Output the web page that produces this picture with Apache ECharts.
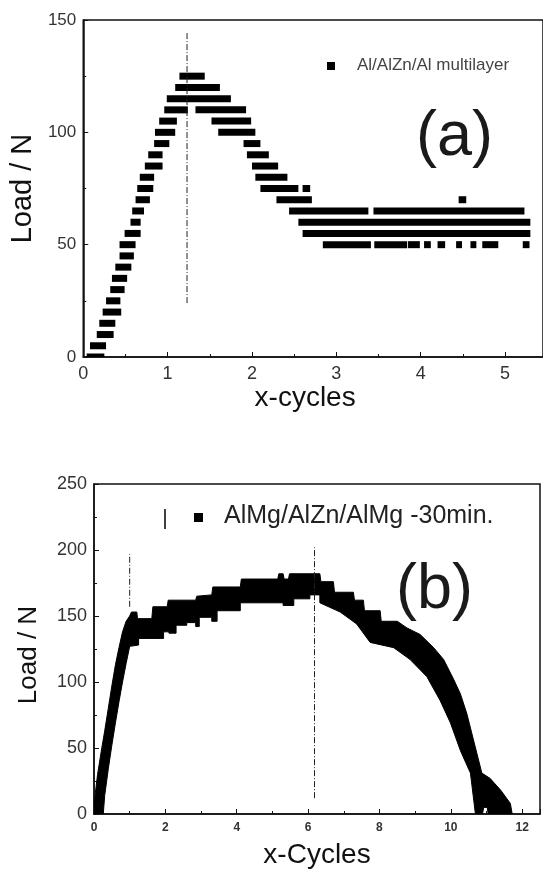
<!DOCTYPE html>
<html>
<head>
<meta charset="utf-8">
<script src="https://cdn.jsdelivr.net/npm/echarts@6/dist/echarts.min.js"></script>
<style>
  html, body { margin: 0; padding: 0; background: #fff; }
  #chart { width: 543px; height: 870px; }
</style>
</head>
<body>
<div id="chart"></div>
<script>
// (a) Al/AlZn/Al multilayer - runs of overlapping square points, one per load level
const aLoad = [0, 5, 10, 15, 20, 25, 30, 35, 40, 45, 50, 55, 60, 65, 70, 75, 80, 85, 90, 95,
  100, 100, 105, 105, 110, 110, 115, 120, 125,
  95, 90, 85, 80, 75, 75, 70, 70, 65, 65, 60, 55,
  50, 50, 50, 50, 50, 50, 50, 50, 50];
const aFrom = [0.04, 0.08, 0.16, 0.19, 0.23, 0.27, 0.32, 0.34, 0.38, 0.43, 0.43, 0.49, 0.56, 0.58, 0.62, 0.64, 0.67, 0.73, 0.77, 0.84,
  0.85, 1.60, 0.90, 1.52, 0.96, 1.33, 0.99, 1.09, 1.14,
  1.90, 1.94, 2.00, 2.04, 2.10, 2.60, 2.29, 4.45, 2.44, 3.44, 2.55, 2.60,
  2.84, 3.45, 3.85, 4.04, 4.20, 4.42, 4.59, 4.73, 5.21];
const aTo = [0.25, 0.27, 0.36, 0.38, 0.45, 0.44, 0.49, 0.52, 0.57, 0.60, 0.62, 0.68, 0.68, 0.72, 0.79, 0.83, 0.84, 0.94, 0.94, 1.02,
  1.09, 2.04, 1.11, 1.99, 1.24, 1.93, 1.75, 1.62, 1.44,
  2.10, 2.20, 2.31, 2.42, 2.55, 2.69, 2.71, 4.54, 3.38, 5.23, 5.30, 5.30,
  3.41, 3.84, 3.99, 4.12, 4.29, 4.49, 4.66, 4.92, 5.29];

// (b) AlMg/AlZn/AlMg -30min. - outline of the dense band of points
// upper edge, left to right
const bTopX = [0.00, 0.02, 0.10, 0.20, 0.30, 0.40, 0.50, 0.60, 0.70, 0.80, 0.90, 1.00, 1.05, 1.20, 1.22, 1.62, 1.65, 2.05, 2.08,
  2.85, 2.88, 3.30, 3.33, 4.10, 4.13, 5.15, 5.18, 5.30, 5.33, 5.45, 5.48, 6.33, 6.36, 6.71, 6.74, 7.27, 7.30,
  7.55, 7.58, 8.02, 8.05, 8.50, 8.77, 9.14, 9.52, 9.80, 10.08, 10.27, 10.45, 10.59, 10.73, 10.87, 11.10, 11.40, 11.67, 11.72];
const bTopY = [0, 12, 30, 47, 63, 80, 97, 113, 126, 138, 146, 150, 153, 153, 148, 148, 157, 157, 162,
  162, 165, 166, 172, 172, 178, 178, 182, 182, 178, 178, 182, 182, 176, 176, 168, 168, 162,
  162, 154, 154, 146, 146, 141, 136, 126, 117, 102, 91, 76, 61, 46, 31, 27, 18, 8, 0];
// lower edge, right to left
const bBotX = [11.72, 11.05, 11.02, 10.92, 10.89, 10.69, 10.55, 10.27, 9.99, 9.70, 9.33, 8.86, 8.40, 7.74, 7.36, 6.90, 6.33,
  6.33, 6.05, 6.05, 5.60, 5.60, 5.30, 5.30, 4.10, 4.10, 3.45, 3.45, 3.30, 3.30, 2.95, 2.95, 2.85, 2.85, 2.60,
  2.60, 2.30, 2.30, 2.10, 2.10, 1.95, 1.95, 1.25, 1.25, 1.00, 0.90, 0.80, 0.70, 0.60, 0.50, 0.40, 0.30, 0.26];
const bBotY = [0, 0, 5, 5, 0, 0, 31, 48, 69, 86, 104, 117, 126, 130, 144, 153, 160,
  166, 166, 163, 163, 158, 158, 160, 160, 154, 154, 146, 146, 149, 149, 142, 142, 145, 145,
  143, 143, 137, 137, 138, 138, 133, 133, 128, 127, 114, 100, 85, 69, 52, 34, 14, 0];

// vertical dash-dot marker lines [x, fromLoad, toLoad]
const aMark = [1.23, 24, 145];
const bMarks = [[1.0, 157, 197], [6.18, 12, 202]];

const aTicksX = { min: 0, max: 5.45, interval: 1 };
const aTicksY = { min: 0, max: 150, interval: 50 };
const bTicksX = { min: 0, max: 12.5, interval: 2 };
const bTicksY = { min: 0, max: 250, interval: 50 };

const FONT = "'Liberation Sans', Arial, sans-serif";

const runsA = aLoad.map((v, i) => [aFrom[i], aTo[i], v]);
const outlineB = bTopX.map((x, i) => [x, bTopY[i]]).concat(bBotX.map((x, i) => [x, bBotY[i]]));

const chart = echarts.init(document.getElementById('chart'));

function xAxisCfg(idx, t, name, labelSize, bold, namePad) {
  return {
    gridIndex: idx, type: 'value', min: t.min, max: t.max, interval: t.interval,
    name: name, nameLocation: 'middle', nameGap: 27,
    nameTextStyle: { fontFamily: FONT, fontSize: 28, color: '#111', padding: namePad },
    axisLine: { lineStyle: { color: '#111', width: 1.5 } },
    axisTick: { inside: true, length: 5, lineStyle: { color: '#111' } },
    minorTick: { show: true, splitNumber: 2, length: 3, lineStyle: { color: '#111' } },
    splitLine: { show: false },
    axisLabel: { fontFamily: FONT, fontSize: labelSize, fontWeight: bold ? 'bold' : 'normal', color: '#333', margin: 8, showMaxLabel: false }
  };
}

function yAxisCfg(idx, t, gap, labelSize, nameSize, namePad) {
  return {
    gridIndex: idx, type: 'value', min: t.min, max: t.max, interval: t.interval,
    name: 'Load / N', nameLocation: 'middle', nameGap: gap,
    nameTextStyle: { fontFamily: FONT, fontSize: nameSize, color: '#111', padding: namePad },
    axisLine: { show: true, lineStyle: { color: '#111', width: 1.5 } },
    axisTick: { inside: true, length: 5, lineStyle: { color: '#111' } },
    minorTick: { show: true, splitNumber: 2, length: 3, lineStyle: { color: '#111' } },
    splitLine: { show: false },
    axisLabel: { fontFamily: FONT, fontSize: labelSize, color: '#333', margin: 7 }
  };
}

function markLine(idx, m) {
  return {
    type: 'line', xAxisIndex: idx, yAxisIndex: idx, symbol: 'none', silent: true,
    data: [[m[0], m[1]], [m[0], m[2]]],
    lineStyle: { color: '#222', width: 1, type: [6, 2, 1, 2] }
  };
}

chart.setOption({
  backgroundColor: '#fff',
  animation: false,
  grid: [
    { left: 83, top: 20, right: 0, height: 337, show: true, borderColor: '#111', borderWidth: 1.5 },
    { left: 94, top: 484, right: 3, height: 330, show: true, borderColor: '#111', borderWidth: 1.5 }
  ],
  xAxis: [
    xAxisCfg(0, aTicksX, 'x-cycles', 18, false, [0, 16, 0, 0]),
    xAxisCfg(1, bTicksX, 'x-Cycles', 12, true, 0)
  ],
  yAxis: [
    yAxisCfg(0, aTicksY, 43, 17, 29, 0),
    yAxisCfg(1, bTicksY, 52, 18, 26, [0, 12, 0, 0])
  ],
  series: [
    {
      type: 'custom', name: 'Al/AlZn/Al multilayer', xAxisIndex: 0, yAxisIndex: 0,
      data: runsA, encode: { x: [0, 1], y: 2 }, clip: true,
      renderItem: (params, api) => {
        const p0 = api.coord([api.value(0), api.value(2)]);
        const p1 = api.coord([api.value(1), api.value(2)]);
        return { type: 'rect', shape: { x: p0[0], y: p0[1] - 3.5, width: p1[0] - p0[0], height: 7 }, style: { fill: '#000' } };
      }
    },
    markLine(0, aMark),
    {
      type: 'custom', name: 'AlMg/AlZn/AlMg -30min.', xAxisIndex: 1, yAxisIndex: 1,
      data: outlineB, encode: { x: 0, y: 1 }, clip: true,
      renderItem: (params, api) => {
        if (params.dataIndex !== 0) return null;
        const pts = outlineB.map(p => api.coord(p));
        return { type: 'polygon', shape: { points: pts }, style: { fill: '#000', stroke: '#000', lineWidth: 1 } };
      }
    },
    markLine(1, bMarks[0]),
    markLine(1, bMarks[1])
  ],
  graphic: [
    // legend (a)
    { type: 'rect', left: 327, top: 62, shape: { width: 8, height: 8 }, style: { fill: '#000' } },
    { type: 'text', left: 357, top: 57, style: { text: 'Al/AlZn/Al multilayer', font: "17px " + FONT, fill: '#444' } },
    { type: 'text', left: 416, top: 106, style: { text: '(a)', font: "63px " + FONT, fill: '#1a1a1a' } },
    // legend (b)
    { type: 'line', shape: { x1: 165, y1: 509, x2: 165, y2: 529 }, style: { stroke: '#000', lineWidth: 1.5 } },
    { type: 'rect', left: 194, top: 513, shape: { width: 9, height: 9 }, style: { fill: '#000' } },
    { type: 'text', left: 224, top: 504, style: { text: 'AlMg/AlZn/AlMg -30min.', font: "25px " + FONT, fill: '#222' } },
    { type: 'text', left: 396, top: 559, style: { text: '(b)', font: "63px " + FONT, fill: '#1a1a1a' } }
  ]
});
</script>
</body>
</html>
